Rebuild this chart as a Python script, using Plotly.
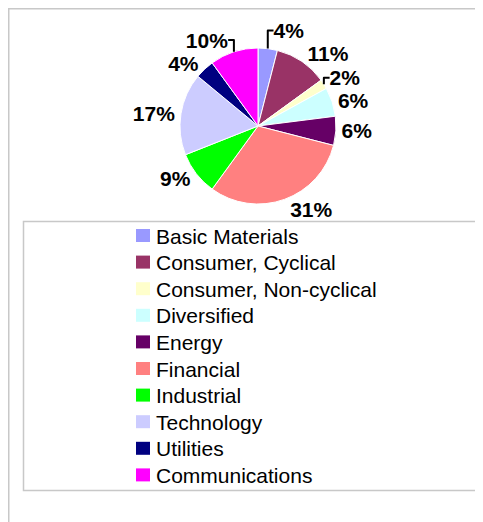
import plotly.graph_objects as go

categories = ["Basic Materials", "Consumer, Cyclical", "Consumer, Non-cyclical",
              "Diversified", "Energy", "Financial", "Industrial", "Technology",
              "Utilities", "Communications"]
shares = [4, 11, 2, 6, 6, 31, 9, 17, 4, 10]
colors = ["#9999FF", "#993366", "#FFFFCC", "#CCFFFF", "#660066",
          "#FF8080", "#00FF00", "#CCCCFF", "#000080", "#FF00FF"]

W, H = 483, 522
OFF = 8  # page body offset

def px(x):
    return (x - OFF) / W

def py(y):
    return 1 - (y - OFF) / H

FONT = "Liberation Sans, Arial, sans-serif"

fig = go.Figure(go.Pie(
    labels=categories,
    values=shares,
    sort=False,
    direction="clockwise",
    rotation=0,
    marker=dict(colors=colors, line=dict(color="#FFFFFF", width=1)),
    textinfo="percent",
    texttemplate="<b>%{percent:.0%}</b>",
    textposition="outside",
    textfont=dict(family=FONT, size=21, color="#000000"),
    hoverinfo="label+percent",
    domain=dict(x=[px(180), px(336)], y=[py(204), py(48)]),
    automargin=False,
    showlegend=False,
))

# legend box and outer chart border
shapes = [
    dict(type="rect", xref="paper", yref="paper",
         x0=px(8.75), x1=1.2, y0=-0.2, y1=py(8.75),
         line=dict(color="#C8C8C8", width=1.5), fillcolor="rgba(0,0,0,0)", layer="below"),
    dict(type="rect", xref="paper", yref="paper",
         x0=px(23.5), x1=1.2, y0=py(490.5), y1=py(221.5),
         line=dict(color="#C8C8C8", width=1.5), fillcolor="rgba(0,0,0,0)", layer="below"),
]
annotations = []
row0, step = 235.5, 26.6
for i, (name, col) in enumerate(zip(categories, colors)):
    yc = row0 + step * i
    shapes.append(dict(type="rect", xref="paper", yref="paper",
                       x0=px(136), x1=px(150), y0=py(yc + 6.5), y1=py(yc - 6.5),
                       line=dict(width=0), fillcolor=col))
    annotations.append(dict(xref="paper", yref="paper", x=px(154), y=py(yc + 0.5),
                            xanchor="left", yanchor="middle", showarrow=False,
                            text=name, font=dict(family=FONT, size=21, color="#000000")))

fig.update_layout(
    width=W, height=H, autosize=False,
    margin=dict(l=0, r=0, t=0, b=0),
    paper_bgcolor="#FFFFFF",
    plot_bgcolor="#FFFFFF",
    font=dict(family=FONT, size=18, color="#000000"),
    showlegend=False,
    shapes=shapes,
    annotations=annotations,
)

fig.write_html("out.html")
